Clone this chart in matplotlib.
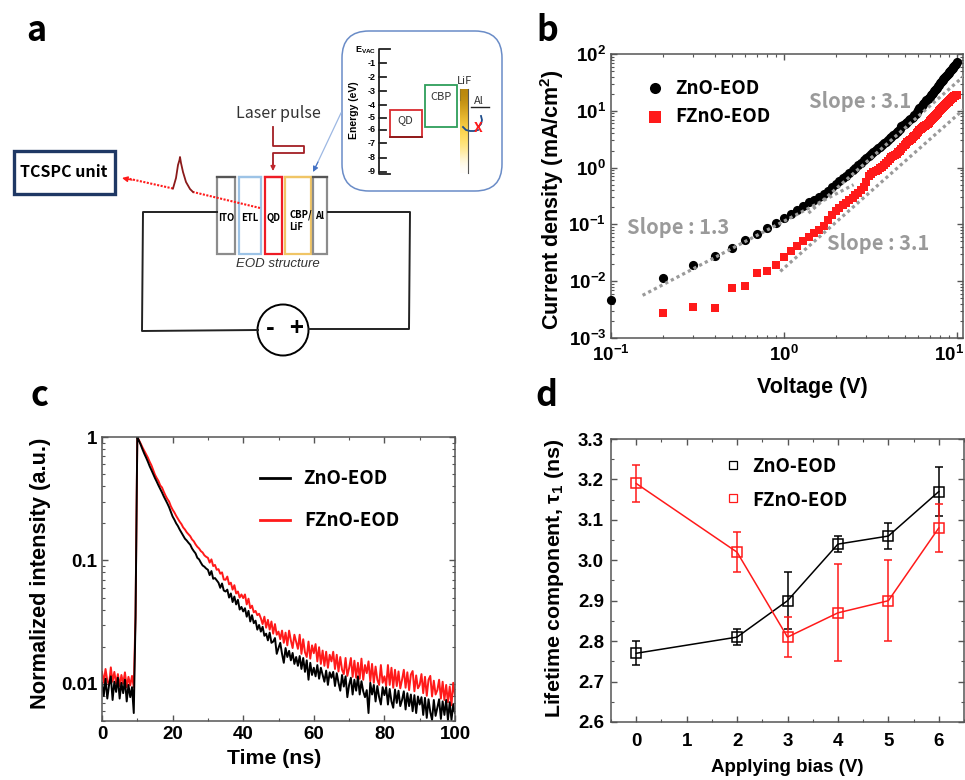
import numpy as np
import matplotlib
matplotlib.use('Agg')
import matplotlib.pyplot as plt
from matplotlib.patches import Rectangle, Circle, FancyBboxPatch
from matplotlib.ticker import LogLocator, NullFormatter, MultipleLocator, FixedLocator
from matplotlib.transforms import ScaledTranslation

# ---- data ----
# panel b: current density vs voltage
voltage = [round(0.1 * i, 1) for i in range(1, 101)]
zno_j = [.0047, .0115, .019, .028, .039, .053, .069, .087, .106, .13,
         .152, .18, .214, .25, .27, .30, .34, .39, .45, .52,
         .58, .65, .72, .80, .90, 1.0, 1.1, 1.22, 1.35, 1.5,
         1.62, 1.75, 1.88, 2.02, 2.17, 2.33, 2.5, 2.68, 2.87, 3.07,
         3.27, 3.48, 3.72, 3.95, 4.2, 4.45, 4.75, 5.4, 5.6, 5.85,
         6.1, 6.4, 6.8, 7.1, 7.5, 7.9, 8.3, 8.9, 9.5, 10.3,
         11, 11.6, 12.3, 13, 13.7, 14.4, 15.2, 15.9, 16.8, 17.7,
         18.7, 19.7, 20.8, 21.9, 23.1, 24.3, 25.6, 27, 28.7, 30.5,
         32, 33.6, 35.2, 36.8, 38.4, 40, 41.6, 43, 44.5, 46,
         48, 50, 52, 54, 56, 58.5, 61, 64, 68, 72]
fzno_j = [.0028, .00356, .00333, .0075, .0083, .014, .0151, .0196, .027,
          .0336, .041, .05, .059, .07, .081, .093, .118, .145, .175,
          .195, .22, .24, .27, .29, .33, .36, .40, .46, .56,
          .72, .78, .82, .86, .92, .98, 1.04, 1.12, 1.2, 1.3,
          1.42, 1.52, 1.58, 1.66, 1.76, 1.86, 1.98, 2.1, 2.3, 2.5,
          2.65, 2.8, 2.95, 3.1, 3.25, 3.4, 3.6, 3.8, 4.05, 4.3,
          4.5, 4.7, 4.9, 5.1, 5.3, 5.5, 5.7, 5.9, 6.2, 6.5,
          6.8, 7.1, 7.4, 7.7, 8, 8.4, 8.8, 9.3, 9.8, 10.3,
          10.7, 11.1, 11.5, 11.9, 12.3, 12.7, 13.1, 13.5, 14, 14.5,
          15, 15.5, 16, 16.5, 17, 17.5, 18, 18.4, 18.8, 19]
slope_lines = [([.1524, 2.535], [.00564, .50]),
               ([1.39, 10.97], [.158, 40.4]),
               ([.955, 10.97], [.0149, 10.5])]

# panel c: decay traces, one value every 0.5 ns
zno_decay = [.0102, .0080, .0110, .0076, .0098, .0115, .0074, .0104, .0086, .0112,
             .0076, .0102, .0084, .0108, .0072, .0098, .0078, .0094, .0058, .034,
             1.0, .93, .86, .79, .73, .68, .63, .58, .54, .50,
             .465, .435, .405, .38, .355, .33, .31, .29, .27, .248,
             .227, .214, .200, .190, .178, .168, .159, .150, .145, .139,
             .134, .125, .119, .114, .105, .102, .096, .091, .089, .086,
             .084, .076, .082, .071, .072, .069, .066, .060, .065, .057,
             .056, .058, .050, .054, .046, .051, .044, .048, .040, .042,
             .0386, .041, .035, .039, .032, .036, .031, .0325, .0275, .030,
             .0265, .029, .0245, .0255, .0225, .026, .0215, .022, .0235, .0175,
             .0195, .0215, .0175, .0148, .0195, .0165, .0185, .0155, .0178, .0145,
             .0165, .014, .0168, .0132, .0162, .0125, .0155, .0108, .0148, .0118,
             .0135, .0115, .0142, .011, .0135, .0118, .0104, .0128, .0098, .0124,
             .0112, .0125, .0096, .0122, .0102, .0088, .0118, .0095, .0115, .0078,
             .0098, .0112, .0082, .0108, .0088, .0115, .0082, .0105, .0087, .0078,
             .0089, .0058, .0102, .0082, .0098, .0072, .0096, .0078, .0068, .0094,
             .0081, .0094, .0068, .0091, .0072, .0064, .009, .007, .0088, .0066,
             .0074, .0087, .0062, .0084, .0066, .0082, .006, .0081, .0058, .0079,
             .0068, .0078, .0056, .0077, .0053, .0075, .0059, .0051, .0074, .0055,
             .0064, .0075, .0052, .0072, .0056, .0074, .0051, .0071, .0051, .0068,
             .0058]
fzno_decay = [.0125, .0102, .0132, .0106, .0098, .0136, .0104, .0125, .0100, .0120,
              .0096, .0118, .0100, .0124, .0094, .0114, .0097, .0116, .0094, .036,
              1.0, .94, .88, .82, .77, .72, .68, .63, .59, .54,
              .495, .465, .44, .405, .39, .36, .335, .315, .30, .275,
              .258, .245, .23, .218, .206, .197, .185, .178, .169, .163,
              .157, .148, .143, .135, .129, .125, .119, .116, .110, .107,
              .105, .096, .102, .090, .092, .084, .085, .078, .080, .070,
              .0697, .074, .064, .066, .058, .063, .054, .056, .050, .053,
              .0495, .053, .044, .049, .041, .043, .038, .039, .036, .037,
              .034, .0305, .035, .0285, .033, .0275, .032, .0255, .0305, .025,
              .0265, .023, .027, .0215, .026, .0205, .027, .0225, .0195, .025,
              .022, .0192, .025, .0175, .023, .018, .0165, .022, .016, .0205,
              .0177, .021, .0152, .0198, .0145, .0186, .014, .0182, .0135, .0172,
              .0152, .0182, .0132, .0172, .0126, .0165, .013, .012, .0162, .0116,
              .0134, .0162, .0114, .0154, .0112, .0148, .011, .016, .0108, .0142,
              .0122, .0152, .0105, .0145, .0102, .0138, .0108, .0098, .0142, .0102,
              .0115, .0096, .0142, .0098, .0135, .0093, .013, .0096, .0126, .0092,
              .0108, .013, .0093, .0124, .0089, .0119, .0127, .0087, .0117, .0092,
              .0098, .012, .0084, .0114, .008, .0108, .0116, .0079, .0106, .0082,
              .0089, .0108, .0076, .0104, .0074, .0098, .0071, .0095, .0067, .0102,
              .0081]

# panel d: lifetime vs bias
bias = [0, 2, 3, 4, 5, 6]
zno_tau = [2.77, 2.81, 2.90, 3.04, 3.06, 3.17]
zno_err = [.03, .02, .07, .02, .032, .06]
fzno_tau = [3.19, 3.02, 2.81, 2.87, 2.90, 3.08]
fzno_err = [.046, .05, .05, .12, .10, .06]

# panel a: layers of the device (name, left, right, colour)
layers = [('ITO', 217, 235, '#8c8c8c'),
          ('ETL', 239, 261, '#9dc3e6'),
          ('QD', 265, 282, '#ee1c25'),
          ('CBP/\nLiF', 285, 311, '#f0c566'),
          ('Al', 313, 327, '#8c8c8c')]
energy_labels = ['-1', '-2', '-3', '-4', '-5', '-6', '-7', '-8', '-9']
energy_rows = [63, 77, 91, 105, 118, 130, 143, 158, 172]

plt.rcParams['font.family'] = ['Liberation Sans', 'DejaVu Sans']
plt.rcParams['font.weight'] = 'bold'
plt.rcParams['mathtext.fontset'] = 'custom'
plt.rcParams['mathtext.bf'] = 'Liberation Sans:bold'
plt.rcParams['mathtext.rm'] = 'Liberation Sans:bold'
plt.rcParams['mathtext.default'] = 'bf'

W, H = 965, 780
fig = plt.figure(figsize=(W / 100, H / 100), dpi=100)

AX_COL = '#555555'
GRAY = '#9a9a9a'
RED = '#ff1a1a'
UI = 'Noto Sans CJK KR'


def make_axes(left, top, right, bottom):
    ax = fig.add_axes([left / W, 1 - bottom / H, (right - left) / W, (bottom - top) / H])
    for s in ax.spines.values():
        s.set_color(AX_COL)
        s.set_linewidth(1.1)
    ax.tick_params(which='major', direction='in', length=4.5, width=1, top=True, right=True,
                   color=AX_COL, labelsize=13.5)
    ax.tick_params(which='minor', direction='in', length=2.5, width=0.8, top=True, right=True,
                   color=AX_COL)
    return ax


# overlay in pixel coordinates, for the schematic and the free text
bg = fig.add_axes([0, 0, 1, 1], zorder=5)
bg.set_xlim(0, W)
bg.set_ylim(H, 0)
bg.axis('off')

# ---- panel b ----
axb = make_axes(611, 54, 963, 338)
for xs, ys in slope_lines:
    axb.plot(xs, ys, ls=(0, (1, 1)), color=GRAY, lw=2.3, zorder=4)
axb.plot(voltage, zno_j, 'o', color='black', ms=6.6, mew=0, zorder=3, clip_on=False)
axb.plot(voltage[1:], fzno_j, 's', color=RED, ms=6.4, mew=0, zorder=3)
axb.set_xscale('log')
axb.set_yscale('log')
axb.set_xlim(0.1, 10.9)
axb.set_ylim(1e-3, 1e2)
axb.xaxis.set_major_locator(FixedLocator([.1, 1, 10]))
axb.set_xticklabels([r'$\mathbf{10^{-1}}$', r'$\mathbf{10^{0}}$', r'$\mathbf{10^{1}}$'])
axb.yaxis.set_major_locator(FixedLocator([1e-3, 1e-2, 1e-1, 1, 10, 100]))
axb.set_yticklabels([r'$\mathbf{10^{-3}}$', r'$\mathbf{10^{-2}}$', r'$\mathbf{10^{-1}}$',
                     r'$\mathbf{10^{0}}$', r'$\mathbf{10^{1}}$', r'$\mathbf{10^{2}}$'])
for axis in (axb.xaxis, axb.yaxis):
    axis.set_minor_locator(LogLocator(base=10, subs=range(2, 10), numticks=12))
    axis.set_minor_formatter(NullFormatter())
axb.tick_params(axis='x', which='major', pad=5)
# last label sits against the image edge, keep it inside
last = axb.get_xticklabels()[-1]
last.set_ha('right')
last.set_transform(last.get_transform() + ScaledTranslation(7 / 100, 0, fig.dpi_scale_trans))

# ---- panel c ----
axc = make_axes(102, 437, 455, 721)
time_ns = np.arange(len(zno_decay)) * 0.5
axc.plot(time_ns, fzno_decay, color=RED, lw=1.4)
axc.plot(time_ns, zno_decay, color='black', lw=1.4)
axc.set_yscale('log')
axc.set_xlim(0, 100)
axc.set_ylim(0.005, 1)
axc.xaxis.set_major_locator(MultipleLocator(20))
axc.xaxis.set_minor_locator(MultipleLocator(10))
axc.yaxis.set_major_locator(FixedLocator([.01, .1, 1]))
axc.set_yticklabels(['0.01', '0.1', '1'])
axc.yaxis.set_minor_locator(LogLocator(base=10, subs=range(2, 10), numticks=12))
axc.yaxis.set_minor_formatter(NullFormatter())

# ---- panel d ----
axd = make_axes(611, 439, 964, 722)
for tau, err, col in [(zno_tau, zno_err, 'black'), (fzno_tau, fzno_err, RED)]:
    axd.errorbar(bias, tau, yerr=err, color=col, lw=1.1, elinewidth=1.1, capsize=3, capthick=1.1,
                 marker='s', ms=7, mfc='none', mec=col, mew=1.1)
axd.set_xlim(-0.5, 6.5)
axd.set_ylim(2.6, 3.3)
axd.xaxis.set_major_locator(MultipleLocator(1))
axd.xaxis.set_minor_locator(MultipleLocator(0.5))
axd.yaxis.set_major_locator(MultipleLocator(0.1))
axd.yaxis.set_minor_locator(MultipleLocator(0.05))
axd.yaxis.set_major_formatter(lambda v, _: f'{v:.1f}')
axd.tick_params(axis='x', which='major', pad=8)
axd.tick_params(axis='y', which='major', pad=5)

# ---- axis titles and legends ----
bg.text(552, 200, 'Current density (mA/cm$^{2}$)', rotation=90, ha='center', va='center', fontsize=15.5)
bg.text(812, 388, 'Voltage (V)', ha='center', va='center', fontsize=15.5)
bg.text(41, 573, 'Normalized intensity (a.u.)', rotation=90, ha='center', va='center', fontsize=15.7)
bg.text(274, 758, 'Time (ns)', ha='center', va='center', fontsize=15.3)
bg.text(555, 578, r'Lifetime component, $\mathregular{\tau_1}$ (ns)', rotation=90,
        ha='center', va='center', fontsize=15.4)
bg.text(787, 768, 'Applying bias (V)', ha='center', va='center', fontsize=13.5)

for x, y, t in [(860, 102, 'Slope : 3.1'), (678, 228, 'Slope : 1.3'), (878, 243, 'Slope : 3.1')]:
    bg.text(x, y, t, color=GRAY, family=UI, fontsize=14.5, ha='center', va='center')

bg.plot([655], [88], 'o', color='black', ms=8, mew=0)
bg.plot([655], [117], 's', color=RED, ms=8, mew=0)
bg.text(675, 88, 'ZnO-EOD', family=UI, fontsize=13.5, va='center')
bg.text(675, 117, 'FZnO-EOD', family=UI, fontsize=13.5, va='center')

bg.plot([260, 290], [478, 478], color='black', lw=2)
bg.plot([260, 290], [520, 520], color=RED, lw=2)
bg.text(303, 478, 'ZnO-EOD', family=UI, fontsize=13.5, va='center')
bg.text(304, 520, 'FZnO-EOD', family=UI, fontsize=13.5, va='center')

bg.plot([733], [465], 's', mfc='none', mec='black', mew=0.9, ms=6)
bg.plot([733], [498], 's', mfc='none', mec=RED, mew=0.9, ms=6)
bg.text(752, 466, 'ZnO-EOD', family=UI, fontsize=13.5, va='center')
bg.text(752, 500, 'FZnO-EOD', family=UI, fontsize=13.5, va='center')

# panel letters
for x, y, t in [(26, 41, 'a'), (536, 41, 'b'), (31, 406, 'c'), (535, 406, 'd')]:
    bg.text(x, y, t, family=UI, fontsize=24.5, va='baseline')

# ---- panel a ----
bg.add_patch(Rectangle((13.5, 150.5), 101, 43, fill=False, ec='#1f3864', lw=2.4))
bg.text(64, 172, 'TCSPC unit', family=UI, fontsize=11.5, ha='center', va='center')

# wires and source
bg.plot([217, 143, 142, 258], [212, 212, 331, 330], color='#222222', lw=1.4)
bg.plot([309, 409, 410, 328], [329, 329, 212, 212], color='#222222', lw=1.4)
bg.add_patch(Circle((283, 330), 25.5, fill=False, ec='black', lw=1.4))
bg.text(270, 329, '-', fontsize=17, family=UI, ha='center', va='center')
bg.text(296.5, 329, '+', fontsize=17, family=UI, ha='center', va='center')

# device layers
for name, x0, x1, col in layers:
    bg.add_patch(Rectangle((x0, 177), x1 - x0, 77, fc='white', ec=col, lw=1.6))
    bg.plot([x0, x1], [177, 177], color='#555555' if col == '#8c8c8c' else col, lw=1.6)
    if name.startswith('CBP'):
        bg.text(289, 221, name, family=UI, fontsize=6.8, ha='left', va='center', linespacing=1.25)
    else:
        bg.text((x0 + x1) / 2, 218 if name != 'Al' else 216, name, family=UI, fontsize=6.8,
                ha='center', va='center')
bg.text(278, 264, 'EOD structure', fontsize=9.5, weight='normal', style='italic',
        ha='center', va='center', color='#333333')

# laser pulse
bg.text(278, 113, 'Laser pulse', family=UI, fontsize=11.5, weight='normal', ha='center', va='center',
        color='#333333')
bg.plot([273, 273, 304, 304, 273, 273], [127, 146, 146, 153, 153, 168], color='#a31f24', lw=1.3)
bg.annotate('', xy=(273, 171), xytext=(273, 163),
            arrowprops=dict(arrowstyle='-|>', color='#c0272d', lw=1, mutation_scale=7, shrinkA=0, shrinkB=0))

# emission signal going to the detector
bg.plot([260, 193], [208, 192], color=RED, lw=1.5, ls=(0, (1, 0.7)))
bg.plot([173, 128], [188.5, 178.5], color=RED, lw=1.5, ls=(0, (1, 0.7)))
bg.annotate('', xy=(122, 178), xytext=(132, 180),
            arrowprops=dict(arrowstyle='-|>', color=RED, lw=1, mutation_scale=8, shrinkA=0, shrinkB=0))
pulse_x = [173, 176, 178, 179.5, 180, 181, 183, 186, 190, 193]
pulse_y = [188.5, 178, 165, 160, 157, 163, 172, 182, 189, 192]
bg.plot(pulse_x, pulse_y, color='#8b1a1a', lw=1.3)

# energy diagram inset
bg.add_patch(FancyBboxPatch((342, 31), 160, 160, boxstyle='round,pad=0,rounding_size=27',
                            fc='white', ec='#6a8cc7', lw=1.1))
bg.plot([341, 316], [113, 166], color='#9db8e3', lw=0.9)
bg.annotate('', xy=(313, 172), xytext=(318, 162),
            arrowprops=dict(arrowstyle='-|>', color='#4472c4', lw=0.8, mutation_scale=8, shrinkA=0, shrinkB=0))

bg.plot([390, 379, 379, 390], [49, 49, 174, 174], color='#222222', lw=1.3)
for lab, y in zip(energy_labels, energy_rows):
    bg.plot([379, 386], [y, y], color='#222222', lw=1.3)
    bg.text(376, y, lab, fontsize=6.5, ha='right', va='center')
bg.text(376, 50, r'$\mathbf{E_{VAC}}$', fontsize=6.5, ha='right', va='center')
bg.text(354, 110, 'Energy (eV)', rotation=90, fontsize=7.5, ha='center', va='center')

bg.add_patch(Rectangle((390, 110), 32, 27, fill=False, ec='#d92b2f', lw=1.3))
bg.plot([390, 422], [137, 137], color='#8b1a1a', lw=1.3)
bg.text(405, 120, 'QD', family=UI, fontsize=8, weight='normal', ha='center', va='center', color='#333333')
bg.add_patch(Rectangle((425, 85), 32, 42, fill=False, ec='#2e9e5a', lw=1.3))
bg.text(441, 97, 'CBP', family=UI, fontsize=8, weight='normal', ha='center', va='center', color='#333333')

lif_colors = np.array([[184, 134, 11], [225, 175, 40], [255, 216, 77], [255, 230, 130], [255, 255, 255]]) / 255
bg.imshow(lif_colors[:, None, :], extent=(460, 468, 173, 89), aspect='auto', interpolation='bicubic', zorder=1)
bg.set_xlim(0, W)
bg.set_ylim(H, 0)
bg.plot([468, 468], [89, 173], color='#555555', lw=0.8)
bg.plot([460, 460], [89, 100], color='#9a7a20', lw=0.8)
bg.text(465, 81, 'LiF', family=UI, fontsize=8, weight='normal', ha='center', va='center', color='#333333')
bg.plot([471, 489], [107, 107], color='#222222', lw=1)
bg.text(479, 101, 'Al', family=UI, fontsize=8, weight='normal', ha='center', va='center', color='#333333')

curve_x = [463, 466, 470, 474, 478]
curve_y = [127, 130, 131, 131, 130]
bg.plot(curve_x, curve_y, color='#1f4e8c', lw=1.3)
bg.plot([481, 482, 481, 479], [116, 120, 124, 126], color='#1f4e8c', lw=1.3)
bg.text(478, 128, 'X', color=RED, family=UI, fontsize=10, ha='center', va='center')

fig.savefig('out.png', dpi=100)
